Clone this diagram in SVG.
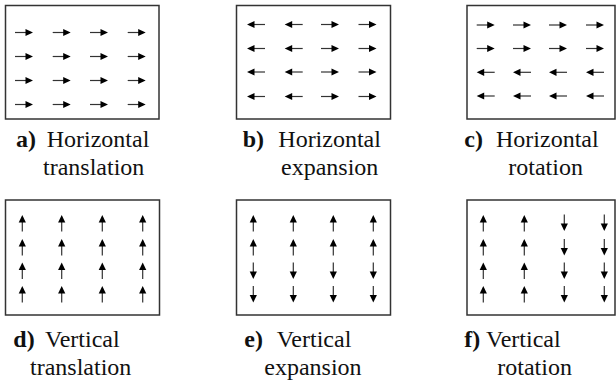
<svg xmlns="http://www.w3.org/2000/svg" xmlns:xlink="http://www.w3.org/1999/xlink" width="616" height="383" viewBox="0 0 616 383">
<style>
.box{fill:none;stroke:#333;stroke-width:1.5}
text{font-family:'Liberation Serif','Times New Roman',Tinos,'DejaVu Serif',serif;font-size:24px;fill:#111}
.b{font-weight:bold}
.ln{stroke:#333;stroke-width:1.2;fill:none}
.hd{fill:#000;stroke:none}
</style>
<defs>
<g id="h"><path class="ln" d="M0,0H12"/><path class="hd" d="M18,0L10.5,-3.6L10.5,3.6Z"/></g>
<g id="u"><path class="ln" d="M0,0V-11"/><path class="hd" d="M0,-16.5L-3.6,-9L3.6,-9Z"/></g>
</defs>
<g id="panel-a">
<rect class="box" x="5.5" y="5.5" width="153.5" height="113.5"/>
<g id="arrows-a">
<use xlink:href="#h" transform="translate(15,32.5)"/><use xlink:href="#h" transform="translate(52.7,32.5)"/><use xlink:href="#h" transform="translate(90,32.5)"/><use xlink:href="#h" transform="translate(127.7,32.5)"/>
<use xlink:href="#h" transform="translate(15,56.5)"/><use xlink:href="#h" transform="translate(52.7,56.5)"/><use xlink:href="#h" transform="translate(90,56.5)"/><use xlink:href="#h" transform="translate(127.7,56.5)"/>
<use xlink:href="#h" transform="translate(15,80.5)"/><use xlink:href="#h" transform="translate(52.7,80.5)"/><use xlink:href="#h" transform="translate(90,80.5)"/><use xlink:href="#h" transform="translate(127.7,80.5)"/>
<use xlink:href="#h" transform="translate(15,104.5)"/><use xlink:href="#h" transform="translate(52.7,104.5)"/><use xlink:href="#h" transform="translate(90,104.5)"/><use xlink:href="#h" transform="translate(127.7,104.5)"/>
</g>
<text class="b" x="16" y="147">a)</text><text x="46.7" y="147">Horizontal</text>
<text x="43" y="175">translation</text>
</g>
<g id="panel-b">
<rect class="box" x="236.5" y="5.5" width="154" height="113.5"/>
<g id="arrows-b">
<use xlink:href="#h" transform="translate(265,24.5) rotate(180)"/><use xlink:href="#h" transform="translate(302.7,24.5) rotate(180)"/><use xlink:href="#h" transform="translate(321,24.5)"/><use xlink:href="#h" transform="translate(358.5,24.5)"/>
<use xlink:href="#h" transform="translate(265,48.5) rotate(180)"/><use xlink:href="#h" transform="translate(302.7,48.5) rotate(180)"/><use xlink:href="#h" transform="translate(321,48.5)"/><use xlink:href="#h" transform="translate(358.5,48.5)"/>
<use xlink:href="#h" transform="translate(265,72) rotate(180)"/><use xlink:href="#h" transform="translate(302.7,72) rotate(180)"/><use xlink:href="#h" transform="translate(321,72)"/><use xlink:href="#h" transform="translate(358.5,72)"/>
<use xlink:href="#h" transform="translate(265,96.5) rotate(180)"/><use xlink:href="#h" transform="translate(302.7,96.5) rotate(180)"/><use xlink:href="#h" transform="translate(321,96.5)"/><use xlink:href="#h" transform="translate(358.5,96.5)"/>
</g>
<text class="b" x="242.7" y="147">b)</text><text x="278.3" y="147">Horizontal</text>
<text x="281" y="175">expansion</text>
</g>
<g id="panel-c">
<rect class="box" x="467" y="5.5" width="148" height="113.5"/>
<g id="arrows-c">
<use xlink:href="#h" transform="translate(476.7,25)"/><use xlink:href="#h" transform="translate(513,25)"/><use xlink:href="#h" transform="translate(549,25)"/><use xlink:href="#h" transform="translate(586,25)"/>
<use xlink:href="#h" transform="translate(476.7,48.5)"/><use xlink:href="#h" transform="translate(513,48.5)"/><use xlink:href="#h" transform="translate(549,48.5)"/><use xlink:href="#h" transform="translate(586,48.5)"/>
<use xlink:href="#h" transform="translate(494.7,72.3) rotate(180)"/><use xlink:href="#h" transform="translate(531,72.3) rotate(180)"/><use xlink:href="#h" transform="translate(567,72.3) rotate(180)"/><use xlink:href="#h" transform="translate(604,72.3) rotate(180)"/>
<use xlink:href="#h" transform="translate(494.7,96) rotate(180)"/><use xlink:href="#h" transform="translate(531,96) rotate(180)"/><use xlink:href="#h" transform="translate(567,96) rotate(180)"/><use xlink:href="#h" transform="translate(604,96) rotate(180)"/>
</g>
<text class="b" x="464.3" y="147">c)</text><text x="496" y="147">Horizontal</text>
<text x="508.3" y="175">rotation</text>
</g>
<g id="panel-d">
<rect class="box" x="5.5" y="200" width="154" height="115"/>
<g id="arrows-d">
<use xlink:href="#u" transform="translate(22.3,231.5)"/><use xlink:href="#u" transform="translate(61.7,231.5)"/><use xlink:href="#u" transform="translate(102.3,231.5)"/><use xlink:href="#u" transform="translate(142.7,231.5)"/>
<use xlink:href="#u" transform="translate(22.3,255.5)"/><use xlink:href="#u" transform="translate(61.7,255.5)"/><use xlink:href="#u" transform="translate(102.3,255.5)"/><use xlink:href="#u" transform="translate(142.7,255.5)"/>
<use xlink:href="#u" transform="translate(22.3,279)"/><use xlink:href="#u" transform="translate(61.7,279)"/><use xlink:href="#u" transform="translate(102.3,279)"/><use xlink:href="#u" transform="translate(142.7,279)"/>
<use xlink:href="#u" transform="translate(22.3,302.5)"/><use xlink:href="#u" transform="translate(61.7,302.5)"/><use xlink:href="#u" transform="translate(102.3,302.5)"/><use xlink:href="#u" transform="translate(142.7,302.5)"/>
</g>
<text class="b" x="13.3" y="346.7">d)</text><text x="45" y="346.7">Vertical</text>
<text x="30" y="375">translation</text>
</g>
<g id="panel-e">
<rect class="box" x="236.5" y="200" width="154" height="115"/>
<g id="arrows-e">
<use xlink:href="#u" transform="translate(253.3,231.5)"/><use xlink:href="#u" transform="translate(293.3,231.5)"/><use xlink:href="#u" transform="translate(333.3,231.5)"/><use xlink:href="#u" transform="translate(373.3,231.5)"/>
<use xlink:href="#u" transform="translate(253.3,255.5)"/><use xlink:href="#u" transform="translate(293.3,255.5)"/><use xlink:href="#u" transform="translate(333.3,255.5)"/><use xlink:href="#u" transform="translate(373.3,255.5)"/>
<use xlink:href="#u" transform="translate(253.3,262.5) rotate(180)"/><use xlink:href="#u" transform="translate(293.3,262.5) rotate(180)"/><use xlink:href="#u" transform="translate(333.3,262.5) rotate(180)"/><use xlink:href="#u" transform="translate(373.3,262.5) rotate(180)"/>
<use xlink:href="#u" transform="translate(253.3,286) rotate(180)"/><use xlink:href="#u" transform="translate(293.3,286) rotate(180)"/><use xlink:href="#u" transform="translate(333.3,286) rotate(180)"/><use xlink:href="#u" transform="translate(373.3,286) rotate(180)"/>
</g>
<text class="b" x="244.3" y="346.7">e)</text><text x="276.7" y="346.7">Vertical</text>
<text x="264.3" y="375">expansion</text>
</g>
<g id="panel-f">
<rect class="box" x="467" y="200" width="148" height="115"/>
<g id="arrows-f">
<use xlink:href="#u" transform="translate(483.3,231.5)"/><use xlink:href="#u" transform="translate(524.3,231.5)"/><use xlink:href="#u" transform="translate(564.3,214.5) rotate(180)"/><use xlink:href="#u" transform="translate(604.3,214.5) rotate(180)"/>
<use xlink:href="#u" transform="translate(483.3,255.5)"/><use xlink:href="#u" transform="translate(524.3,255.5)"/><use xlink:href="#u" transform="translate(564.3,239) rotate(180)"/><use xlink:href="#u" transform="translate(604.3,239) rotate(180)"/>
<use xlink:href="#u" transform="translate(483.3,279)"/><use xlink:href="#u" transform="translate(524.3,279)"/><use xlink:href="#u" transform="translate(564.3,262.5) rotate(180)"/><use xlink:href="#u" transform="translate(604.3,262.5) rotate(180)"/>
<use xlink:href="#u" transform="translate(483.3,302.5)"/><use xlink:href="#u" transform="translate(524.3,302.5)"/><use xlink:href="#u" transform="translate(564.3,286) rotate(180)"/><use xlink:href="#u" transform="translate(604.3,286) rotate(180)"/>
</g>
<text class="b" x="464.3" y="346.7">f)</text><text x="486" y="346.7">Vertical</text>
<text x="497.3" y="375">rotation</text>
</g>
</svg>
